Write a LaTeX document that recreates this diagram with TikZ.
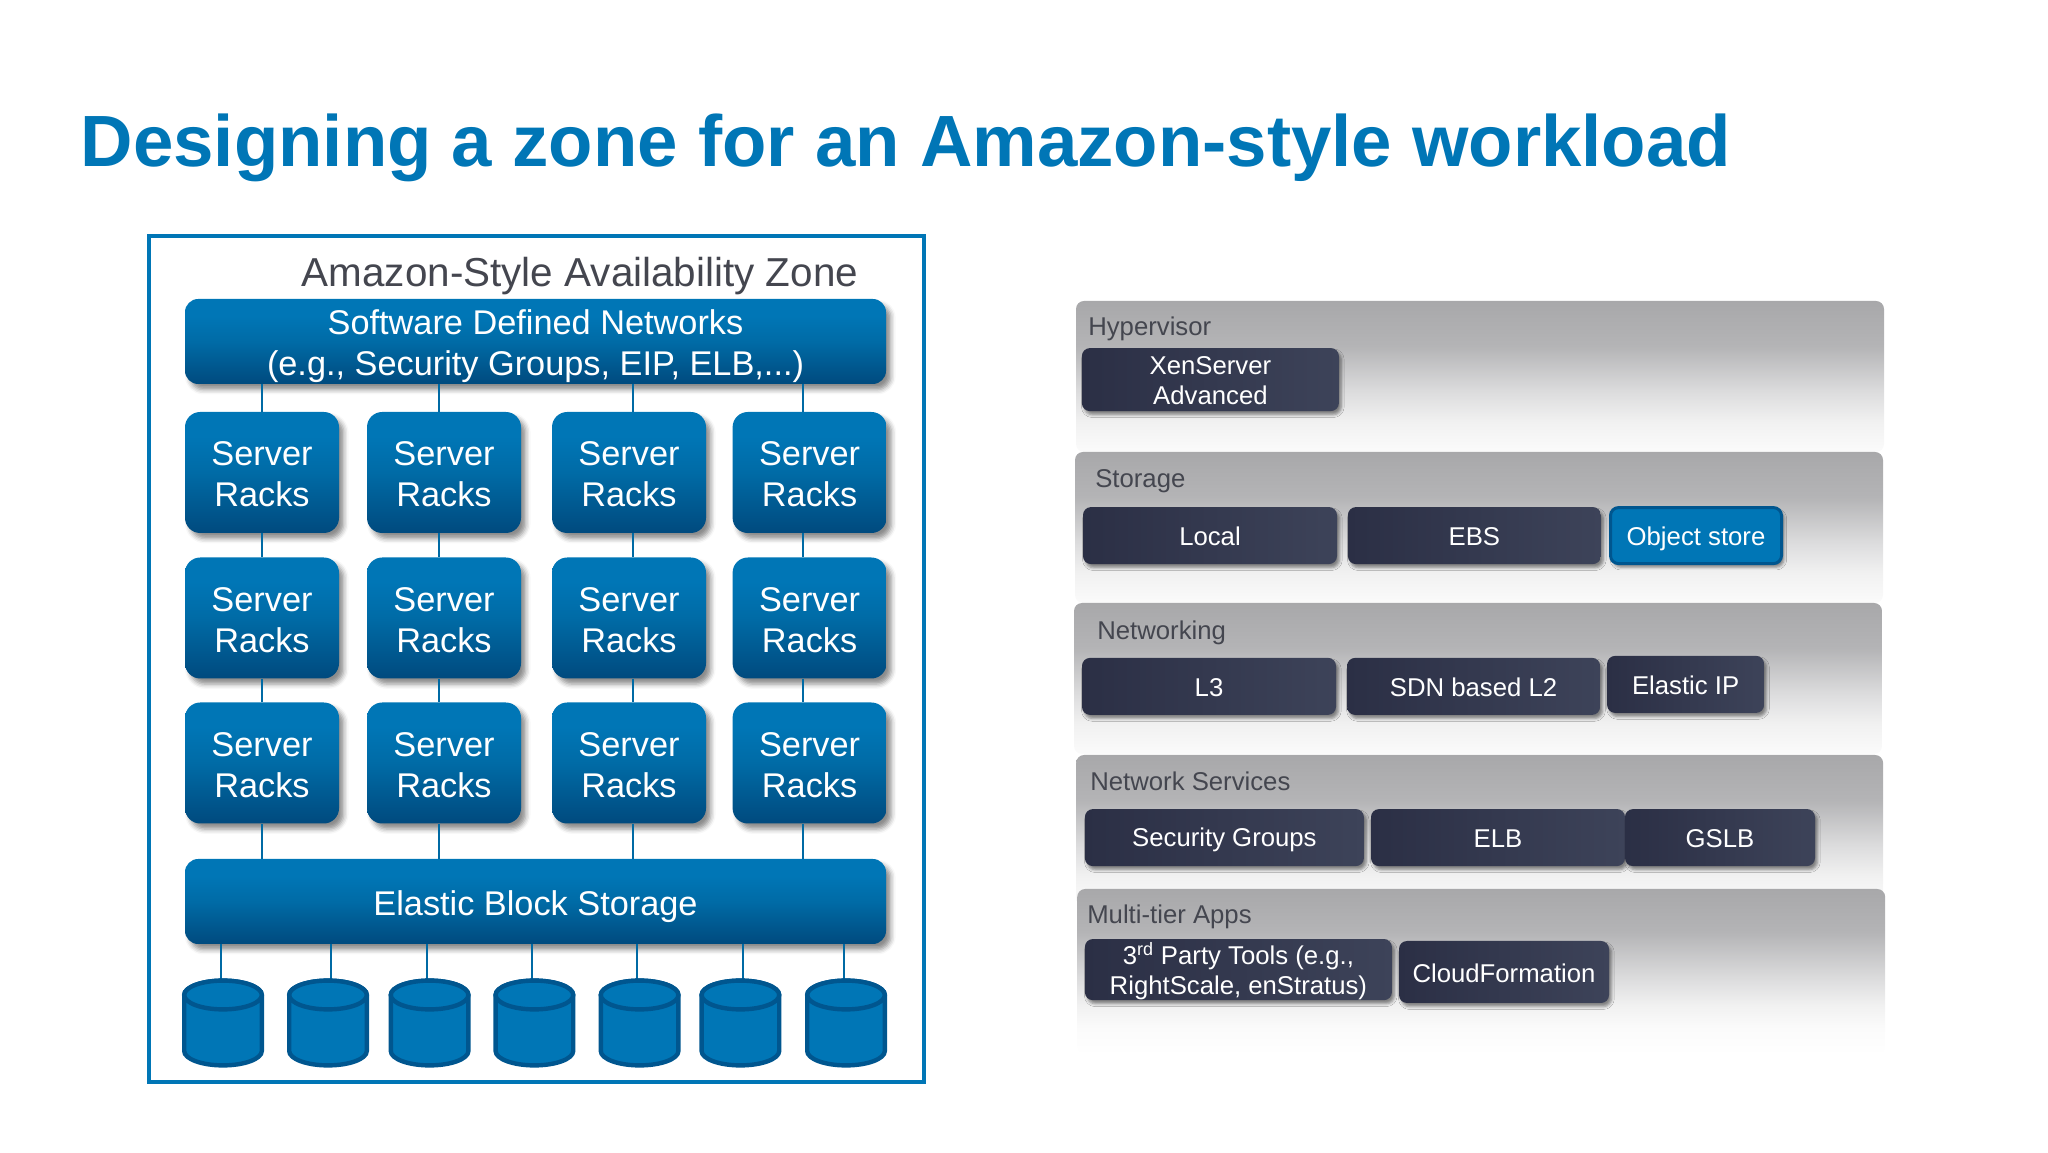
\documentclass[tikz,border=0pt]{standalone}
\usepackage{fontspec}
\setmainfont{Liberation Sans}
\usetikzlibrary{calc,shadows.blur}
\definecolor{dellblue}{HTML}{0076B6}
\definecolor{dellmid}{HTML}{006BA6}
\definecolor{delldark}{HTML}{004A7E}
\definecolor{cylrim}{HTML}{00568F}
\definecolor{slatel}{HTML}{2B2F45}
\definecolor{slater}{HTML}{3D4359}
\definecolor{labelgrey}{HTML}{44464F}
\definecolor{bandtop}{HTML}{A8A8AA}
\definecolor{bandmid}{HTML}{B4B4B6}
\definecolor{bandlow}{HTML}{DCDCDD}
\definecolor{bandpale}{HTML}{F1F1F1}
\definecolor{bandend}{HTML}{FBFBFB}
\pgfdeclareverticalshading{blueshade}{100bp}{color(0bp)=(delldark); color(25bp)=(delldark); color(50bp)=(dellmid); color(65bp)=(dellblue); color(75bp)=(dellblue); color(100bp)=(dellblue)}
\pgfdeclareverticalshading{bandshade}{100bp}{color(0bp)=(bandend); color(25bp)=(bandend); color(35bp)=(bandpale); color(45bp)=(bandlow); color(60bp)=(bandmid); color(75bp)=(bandtop); color(100bp)=(bandtop)}
\pgfdeclareverticalshading{lastshade}{100bp}{color(0bp)=(white); color(25bp)=(white); color(33bp)=(bandend); color(40bp)=(bandpale); color(48bp)=(bandlow); color(62bp)=(bandmid); color(75bp)=(bandtop); color(100bp)=(bandtop)}
\newcommand{\topstrut}[1]{\rule{0pt}{#1}}
\tikzset{
  nudge/.style={execute at begin node={\rule{0pt}{#1}}},
  bluebox/.style={rectangle,inner sep=0pt,shading=blueshade,text=white,align=center,font=\fontsize{24.4}{29}\selectfont,
    blur shadow={shadow xshift=1.2mm,shadow yshift=-1.4mm,shadow blur radius=1.2mm,shadow opacity=45}},
  rack/.style={bluebox,rounded corners=3.8mm,minimum width=38.5mm,minimum height=30.25mm},
  bar/.style={bluebox,rounded corners=3.3mm,minimum width=175.25mm,minimum height=21.25mm},
  link/.style={draw=dellblue!90!black,line width=.45mm},
  drum/.style={draw=cylrim,line width=1.1mm,fill=dellblue},
  band/.style={rectangle,inner sep=0pt,rounded corners=2mm,shading=bandshade},
  slate/.style={rectangle,inner sep=0pt,rounded corners=2mm,left color=slatel,right color=slater,text=white,align=center,nudge=5.2mm,
    blur shadow={shadow xshift=.6mm,shadow yshift=-.9mm,shadow blur radius=.7mm,shadow opacity=45},font=\fontsize{18.3}{21.5}\selectfont},
  bandlabel/.style={anchor=base west,inner sep=0pt,text=labelgrey,font=\fontsize{18.3}{21.5}\selectfont},
}
\begin{document}
\begin{tikzpicture}
\useasboundingbox (0,0) rectangle (512mm,288mm);

\draw node [anchor=base west,inner sep=0pt,text=dellblue,font=\fontsize{51.66}{60}\selectfont\bfseries] (title) at (20.1mm,246.25mm) {Designing a zone for an Amazon-style workload};

% left panel
\draw node [draw=dellblue,line width=1mm,rectangle,minimum width=193.75mm,minimum height=211.5mm,inner sep=0pt](zone) at (134.15mm,123.25mm){};
\draw node [anchor=base,inner sep=0pt,text=labelgrey,font=\fontsize{28.74}{34}\selectfont] (zonename) at (145mm,216.25mm){Amazon-Style Availability Zone};

\draw node [bar](sdn) at (133.875mm,202.625mm){\topstrut{8.7mm}Software Defined Networks\\(e.g., Security Groups, EIP, ELB,...)};
\draw node [bar,nudge=8.7mm](ebs) at (133.875mm,62.625mm){Elastic Block Storage};

\draw node [rack](rackAA) at (65.5mm,169.875mm){\topstrut{6.9mm}Server\\Racks};
\draw node [rack](rackAB) at (111mm,169.875mm){\topstrut{6.9mm}Server\\Racks};
\draw node [rack](rackAC) at (157.25mm,169.875mm){\topstrut{6.9mm}Server\\Racks};
\draw node [rack](rackAD) at (202.4mm,169.875mm){\topstrut{6.9mm}Server\\Racks};

\draw node [rack](rackBA) at (65.5mm,133.5mm){\topstrut{6.9mm}Server\\Racks};
\draw node [rack](rackBB) at (111mm,133.5mm){\topstrut{6.9mm}Server\\Racks};
\draw node [rack](rackBC) at (157.25mm,133.5mm){\topstrut{6.9mm}Server\\Racks};
\draw node [rack](rackBD) at (202.4mm,133.5mm){\topstrut{6.9mm}Server\\Racks};

\draw node [rack](rackCA) at (65.5mm,97.25mm){\topstrut{6.9mm}Server\\Racks};
\draw node [rack](rackCB) at (111mm,97.25mm){\topstrut{6.9mm}Server\\Racks};
\draw node [rack](rackCC) at (157.25mm,97.25mm){\topstrut{6.9mm}Server\\Racks};
\draw node [rack](rackCD) at (202.4mm,97.25mm){\topstrut{6.9mm}Server\\Racks};

% vertical links between the rows
\foreach \row/\x in {A/65.5,B/109.75,C/158.25,D/200.75}{
  \coordinate (bus\row) at (\x mm,0);
  \draw[link] (sdn.south -| bus\row) -- (rackA\row.north -| bus\row);
  \draw[link] (rackA\row.south -| bus\row) -- (rackB\row.north -| bus\row);
  \draw[link] (rackB\row.south -| bus\row) -- (rackC\row.north -| bus\row);
  \draw[link] (rackC\row.south -| bus\row) -- (ebs.north -| bus\row);
}

% disks
\foreach \n/\cx/\x in {A/55.75/55.25,B/82/82.75,C/107.4/106.75,D/133.6/133,E/159.9/159.25,F/185.1/185.75,G/211.5/211}{
  \coordinate (disk\n) at (\cx mm,32.25mm);
  \coordinate (rim\n) at (\x mm,42.75mm);
  \draw[link] (ebs.south -| rim\n) -- (rim\n);
  \draw[drum] ($ (disk\n)+(-9.7mm,7mm) $) -- ($ (disk\n)+(-9.7mm,-7mm) $) arc[start angle=180,end angle=360,x radius=9.7mm,y radius=3.6mm] -- ($ (disk\n)+(9.7mm,7mm) $) arc[start angle=0,end angle=180,x radius=9.7mm,y radius=3.6mm] -- cycle;
  \draw[drum] ($ (disk\n)+(0,7mm) $) ellipse [x radius=9.7mm,y radius=3.6mm];
}

% right panel
\draw node [band,minimum width=202mm,minimum height=37.75mm](hyper) at (370mm,193.875mm){};
\draw node [band,minimum width=202mm,minimum height=37.75mm](storage) at (369.75mm,156.125mm){};
\draw node [band,minimum width=202mm,minimum height=37.75mm](net) at (369.5mm,118.375mm){};
\draw node [band,minimum width=201.75mm,minimum height=37.75mm](netsvc) at (369.9mm,80.375mm){};
\draw node [band,shading=lastshade,minimum width=202mm,minimum height=41.5mm](apps) at (370.3mm,45mm){};

\draw node [bandlabel] at (272mm,204mm){Hypervisor};
\draw node [bandlabel] at (273.75mm,166mm){Storage};
\draw node [bandlabel] at (274.25mm,128mm){Networking};
\draw node [bandlabel] at (272.5mm,90.25mm){Network Services};
\draw node [bandlabel] at (271.75mm,57mm){Multi-tier Apps};

\draw node [slate,minimum width=64.25mm,minimum height=15.75mm](xen) at (302.6mm,193.1mm){\topstrut{5mm}XenServer\\Advanced};

\draw node [slate,minimum width=63.5mm,minimum height=14.25mm](local) at (302.5mm,154.1mm){Local};
\draw node [slate,minimum width=63.25mm,minimum height=14.25mm](block) at (368.6mm,154.1mm){EBS};
\draw node [slate,left color=dellblue,right color=dellblue,draw=cylrim,line width=.75mm,minimum width=42.75mm,minimum height=14mm,nudge=6.4mm](object) at (424mm,154.1mm){Object store};

\draw node [slate,minimum width=63.5mm,minimum height=14.25mm](lthree) at (302.25mm,116.4mm){L3};
\draw node [slate,minimum width=63.25mm,minimum height=14.25mm](ltwo) at (368.4mm,116.4mm){SDN based L2};
\draw node [slate,minimum width=39.25mm,minimum height=14.25mm](eip) at (421.4mm,116.9mm){Elastic IP};

\draw node [slate,minimum width=69.75mm,minimum height=14.25mm,nudge=5.9mm](groups) at (306.1mm,78.6mm){Security Groups};
\draw node [slate,minimum width=63.5mm,minimum height=14.25mm](elb) at (374.5mm,78.6mm){ELB};
\draw node [slate,minimum width=47.5mm,minimum height=14.25mm](gslb) at (430mm,78.6mm){GSLB};

\draw node [slate,minimum width=76.75mm,minimum height=14.25mm](tools) at (309.6mm,45.6mm){\topstrut{6.4mm}3\textsuperscript{rd} Party Tools (e.g.,\\RightScale, enStratus)};
\draw node [slate,minimum width=52.5mm,minimum height=15.5mm](cloud) at (376mm,45mm){CloudFormation};

\end{tikzpicture}
\end{document}
